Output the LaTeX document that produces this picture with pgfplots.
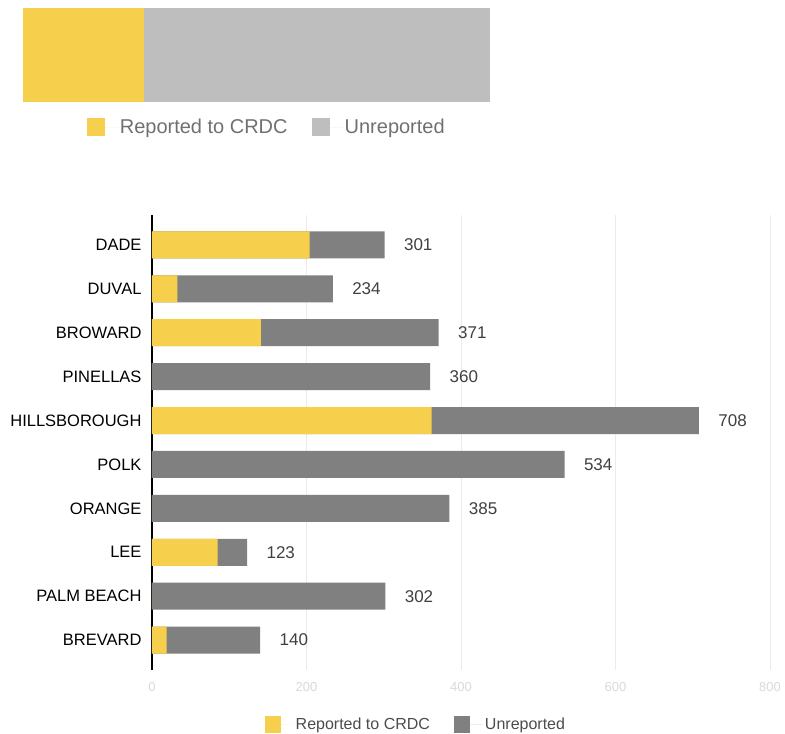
\documentclass[border=0pt]{standalone}
\usepackage{pgfplots}
\pgfplotsset{compat=1.18}
\usepackage{fontspec}
\setmainfont{Liberation Sans}
\definecolor{repy}{HTML}{F6D04D}
\definecolor{ltg}{HTML}{BEBEBE}
\definecolor{dkg}{HTML}{808080}
\definecolor{legtxt}{HTML}{707070}
\begin{document}
\begin{tikzpicture}
\useasboundingbox (0,0) rectangle (785pt,-734pt);
% ---------- top summary bar ----------
\begin{axis}[at={(23pt,-102pt)}, anchor=south west, scale only axis,
  width=467pt, height=94pt, xbar stacked, bar width=94pt,
  xmin=0, xmax=100, ymin=-0.5, ymax=0.5, hide axis,
  legend columns=2,
  legend style={at={(0.522,-0.27)}, anchor=center, draw=none, fill=none,
    font=\fontsize{20}{22}\selectfont, text=legtxt,
    /tikz/every even column/.append style={column sep=22pt}},
  legend image code/.code={\fill[#1] (0pt,-9pt) rectangle (18pt,9pt); \path (18pt,0pt) -- (31pt,0pt);}]
\addplot[fill=repy, draw=none] coordinates {(26,0)};
\addplot[fill=ltg, draw=none] coordinates {(74,0)};
\legend{Reported to CRDC, Unreported}
\end{axis}
% ---------- county bars ----------
\begin{axis}[at={(152pt,-670pt)}, anchor=south west, scale only axis,
  width=618pt, height=455pt, xbar, bar width=27pt, bar shift=0pt,
  xmin=0, xmax=800, ymin=-0.68, ymax=9.68,
  ytick={0,...,9},
  yticklabels={BREVARD,PALM BEACH,LEE,ORANGE,POLK,HILLSBOROUGH,PINELLAS,BROWARD,DUVAL,DADE},
  xtick={0,200,400,600,800},
  /pgf/number format/assume math mode=true,
  xmajorgrids, grid style={black!8},
  axis lines*=left,
  x axis line style={draw=none},
  y axis line style={black, line width=1.2pt},
  major tick length=0pt,
  yticklabel style={font=\fontsize{16.5}{17}\selectfont, text=black, xshift=-7pt},
  xticklabel style={font=\fontsize{13}{13}\selectfont, text=black!15, yshift=-9pt},
  legend columns=2,
  legend style={at={(0.427,-0.119)}, anchor=center, draw=none, fill=none,
    font=\fontsize{16}{18}\selectfont, text=black!70,
    /tikz/every even column/.append style={column sep=22pt}},
  legend image code/.code={\fill[#1] (0pt,-8.5pt) rectangle (16pt,8.5pt); \path (16pt,0pt) -- (29pt,0pt);}]
\addlegendimage{fill=repy, draw=none}
\addlegendimage{fill=dkg, draw=none}
% totals (unreported + reported), with total labels
\addplot[fill=dkg, draw=none, forget plot, point meta=explicit symbolic,
  nodes near coords, nodes near coords align={horizontal},
  every node near coord/.append style={font=\fontsize{17}{17}\selectfont, text=black!75, anchor=west, xshift=16pt}]
 coordinates {
 (301,9) [301] (234,8) [234] (371,7) [371] (360,6) [360] (708,5) [708]
 (534,4) [534] (385,3) [385] (123,2) [123] (302,1) [302] (140,0) [140]};
% reported to CRDC
\addplot[fill=repy, draw=none, forget plot] coordinates {
 (204,9) (33,8) (141,7) (0,6) (362,5) (0,4) (0,3) (85,2) (0,1) (19,0)};
\legend{Reported to CRDC, Unreported}
\end{axis}
\end{tikzpicture}
\end{document}
